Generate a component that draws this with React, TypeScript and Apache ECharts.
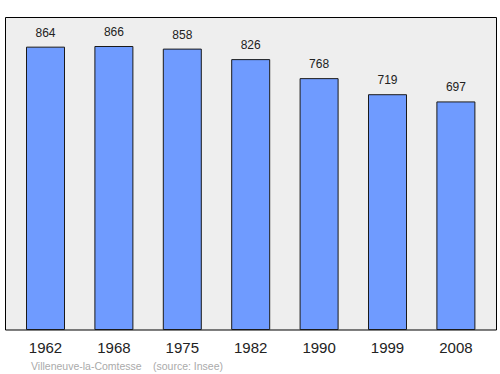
import React, { useEffect, useRef } from "react";
import * as echarts from "echarts";

const years = ["1962", "1968", "1975", "1982", "1990", "1999", "2008"];
const population = [864, 866, 858, 826, 768, 719, 697];
const placeName = "Villeneuve-la-Comtesse";
const sourceName = "(source: Insee)";

export default function App() {
  const ref = useRef<HTMLDivElement>(null);
  useEffect(() => {
    document.body.style.margin = "0";
    const chart = echarts.init(ref.current!, null, { renderer: "svg" });
    chart.setOption({
      animation: false,
      backgroundColor: "#ffffff",
      textStyle: { fontFamily: "Liberation Sans" },
      grid: { left: 11.3, right: 9.9, top: 17.6, bottom: 44, containLabel: false },
      xAxis: {
        type: "category",
        data: years,
        axisLine: { show: false },
        axisTick: { show: false },
        axisLabel: { color: "#222", fontSize: 15, margin: 10, fontFamily: "Liberation Sans" },
      },
      yAxis: {
        type: "value",
        min: 0,
        max: Math.max(...population) * 1.1,
        show: false,
        splitLine: { show: false },
      },
      graphic: [
        {
          type: "rect",
          z: -10,
          silent: true,
          shape: { x: 5.5, y: 17.5, width: 491, height: 312.5 },
          style: { fill: "#eeeeee", stroke: "#000", lineWidth: 1 },
        },
        {
          type: "text",
          x: 31,
          y: 360,
          style: { text: placeName, fill: "#aaaaaa", fontSize: 10.5, fontFamily: "Liberation Sans" },
        },
        {
          type: "text",
          x: 153,
          y: 360,
          style: { text: sourceName, fill: "#aaaaaa", fontSize: 10.5, fontFamily: "Liberation Sans" },
        },
      ],
      series: [
        {
          type: "bar",
          data: population,
          barWidth: 39,
          itemStyle: { color: "#6f9bff", borderColor: "#1a1a1a", borderWidth: 1 },
          label: {
            show: true,
            position: "top",
            distance: 8,
            color: "#222",
            fontSize: 12,
            fontFamily: "Liberation Sans",
          },
        },
      ],
    });
    return () => chart.dispose();
  }, []);
  return <div ref={ref} style={{ width: 500, height: 374 }} />;
}
